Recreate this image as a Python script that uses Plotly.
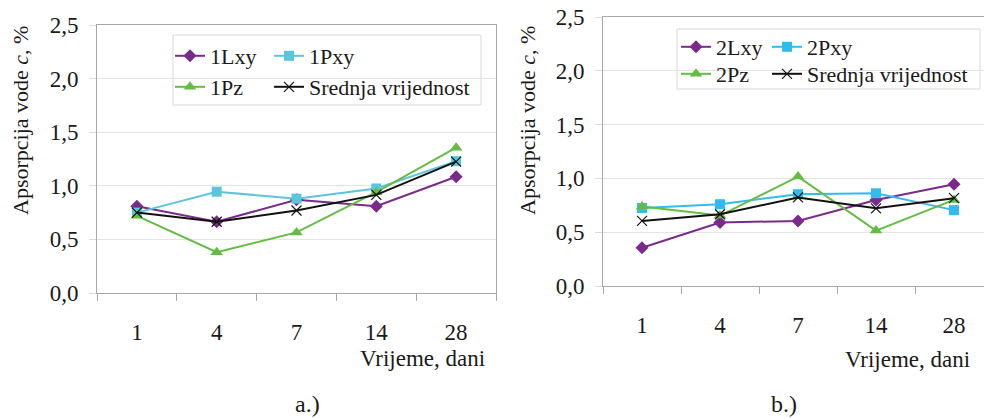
import plotly.graph_objects as go

# ---- data ----
days = ["1", "4", "7", "14", "28"]

a_names = ["1Lxy", "1Pxy", "1Pz", "Srednja vrijednost"]
a_Lxy = [0.81, 0.665, 0.87, 0.81, 1.085]
a_Pxy = [0.75, 0.945, 0.88, 0.975, 1.23]
a_Pz = [0.72, 0.38, 0.565, 0.94, 1.355]
a_mean = [0.75, 0.665, 0.77, 0.915, 1.225]

b_names = ["2Lxy", "2Pxy", "2Pz", "Srednja vrijednost"]
b_Lxy = [0.355, 0.59, 0.605, 0.80, 0.945]
b_Pxy = [0.725, 0.76, 0.853, 0.862, 0.705]
b_Pz = [0.738, 0.655, 1.017, 0.515, 0.80]
b_mean = [0.605, 0.667, 0.823, 0.722, 0.816]

W, H = 984, 418
FONT = "Liberation Serif"
TXT = "#1a1a1a"

def px_x(v):
    return v / W

def px_y(v):
    return (H - v) / H

PURPLE = "#7a2a8a"
CYAN_A = "#5bc5dc"
CYAN_B = "#33bbee"
GREEN = "#66bb44"

fig = go.Figure()

def add_series(xaxis, yaxis, names, series, cyan, legends, col1w):
    styles = [
        dict(color=PURPLE, symbol="diamond", size=10),
        dict(color=cyan, symbol="square", size=10),
        dict(color=GREEN, symbol="triangle-up", size=11),
        dict(color="#111111", symbol="x-thin", size=10),
    ]
    widths = [col1w, 170, col1w, 170]
    for name, ys, st, lg, lw in zip(names, series, styles, legends, widths):
        mk = dict(symbol=st["symbol"], size=st["size"], color=st["color"])
        if st["symbol"] == "x-thin":
            mk["line"] = dict(color=st["color"], width=1.2)
        fig.add_trace(go.Scatter(
            x=days, y=ys, name=name, mode="lines+markers",
            line=dict(color=st["color"], width=2),
            marker=mk, xaxis=xaxis, yaxis=yaxis, legend=lg, legendwidth=lw,
        ))

add_series("x", "y", a_names, [a_Lxy, a_Pxy, a_Pz, a_mean], CYAN_A,
           ["legend", "legend", "legend2", "legend2"], 54)
add_series("x2", "y2", b_names, [b_Lxy, b_Pxy, b_Pz, b_mean], CYAN_B,
           ["legend3", "legend3", "legend4", "legend4"], 46)

# plot areas in px
A = dict(l=97, r=496, t=25, b=293)
B = dict(l=603, r=984, t=17, b=286)
catB = 78.0

xa_common = dict(
    type="category", tickson="boundaries", ticks="outside", ticklen=7,
    tickcolor="#a8a8a8", showline=True, linecolor="#a8a8a8", linewidth=1,
    showgrid=False, zeroline=False, tickfont=dict(family=FONT, size=23, color=TXT),
    ticklabelstandoff=18, fixedrange=True, automargin=False,
)
ya_common = dict(
    range=[0, 2.5], dtick=0.5, tick0=0, tickformat=".1f", ticks="outside",
    ticklen=7, tickcolor="#dcdcdc", showline=True, linecolor="#a8a8a8",
    linewidth=1, showgrid=True, gridcolor="#e4e4e4", gridwidth=1,
    zeroline=False, tickfont=dict(family=FONT, size=23, color=TXT),
    ticklabelstandoff=6, fixedrange=True, automargin=False,
)

fig.update_layout(
    width=W, height=H, margin=dict(l=0, r=0, t=0, b=0, autoexpand=False),
    paper_bgcolor="white", plot_bgcolor="white",
    separators=", ",
    xaxis=dict(xa_common, domain=[px_x(A["l"]), px_x(A["r"])], range=[-0.5, 4.5],
               anchor="y", mirror=True),
    yaxis=dict(ya_common, domain=[px_y(A["b"]), px_y(A["t"])], anchor="x", mirror=True),
    xaxis2=dict(xa_common, domain=[px_x(B["l"]), 1.0],
                range=[-0.5, -0.5 + (B["r"] - B["l"]) / catB], anchor="y2", mirror=True),
    yaxis2=dict(ya_common, domain=[px_y(B["b"]), px_y(B["t"])], anchor="x2", mirror=False),
    showlegend=True,
)

leg_common = dict(orientation="h", xanchor="left", yanchor="middle",
                  bgcolor="rgba(0,0,0,0)", borderwidth=0,
                  font=dict(family=FONT, size=22, color=TXT),
                  itemclick=False, itemdoubleclick=False)
fig.update_layout(
    legend=dict(leg_common, x=px_x(170), y=px_y(56)),
    legend2=dict(leg_common, x=px_x(170), y=px_y(87)),
    legend3=dict(leg_common, x=px_x(676), y=px_y(47)),
    legend4=dict(leg_common, x=px_x(676), y=px_y(74)),
)

# legend frames
for (x0, y0, x1, y1) in [(173, 35, 481, 105), (677, 29, 980, 89)]:
    fig.add_shape(type="rect", xref="paper", yref="paper",
                  x0=px_x(x0), x1=px_x(x1), y0=px_y(y1), y1=px_y(y0),
                  fillcolor="white", line=dict(color="#d8d8d8", width=1),
                  layer="between")

ann = []
ytitle = "Apsorpcija vode <i>c</i>, %"
for xc in (20, 527):
    ann.append(dict(text=ytitle, x=px_x(xc), y=px_y(121), xref="paper", yref="paper",
                    textangle=-90, showarrow=False, xanchor="center", yanchor="middle",
                    font=dict(family=FONT, size=22, color=TXT)))
for xr, yc in ((487, 358), (972, 359)):
    ann.append(dict(text="Vrijeme, dani", x=px_x(xr), y=px_y(yc), xref="paper", yref="paper",
                    showarrow=False, xanchor="right", yanchor="middle",
                    font=dict(family=FONT, size=23, color=TXT)))
for txt, xc in (("a.)", 307), ("b.)", 784)):
    ann.append(dict(text=txt, x=px_x(xc), y=px_y(404), xref="paper", yref="paper",
                    showarrow=False, xanchor="center", yanchor="middle",
                    font=dict(family=FONT, size=24, color=TXT)))
fig.update_layout(annotations=ann)

fig.write_html(
    "out.html",
    config={"displayModeBar": False},
    post_script="document.body.style.margin='0';document.body.style.overflow='hidden';",
)
